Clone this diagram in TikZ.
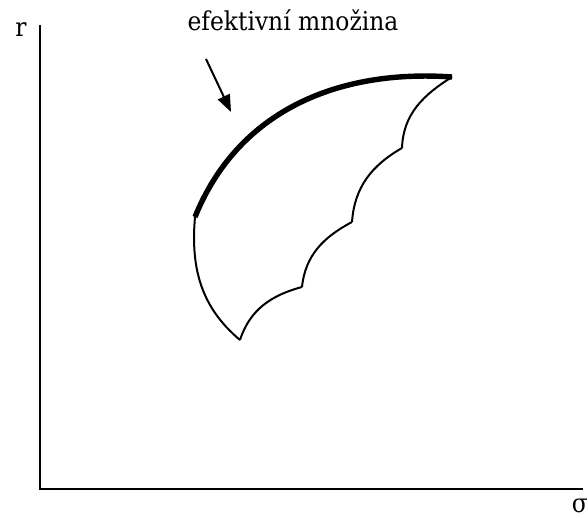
\documentclass[tikz,border=0pt]{standalone}
\usepackage{fontspec}
\setmainfont{DejaVu Serif Condensed}
\usetikzlibrary{arrows.meta}

\begin{document}
\begin{tikzpicture}[
  x=1pt, y=1pt,
  lbl/.style={font=\fontsize{26}{30}\selectfont, inner sep=0pt},
  ax/.style={line width=2pt},
  edge/.style={line width=2pt},
  eff/.style={line width=5.4pt},
  ar/.style={-{Triangle[length=17pt, width=13pt]}, line width=2pt}
]
\useasboundingbox (0,0) rectangle (588,518);

% axes
\coordinate (o) at (40,29);
\coordinate (ytop) at (40,493);
\coordinate (xend) at (583,29);
\draw[ax] (ytop) -- (o) -- (xend);
\node[lbl, anchor=base] (r) at (21,481) {r};
\node[lbl, anchor=base east] (sigma) at (588,5) {σ};

% corners of the set
\coordinate (a) at (195,301);
\coordinate (e) at (452,441);
\coordinate (b) at (240,178);
\coordinate (s1) at (302,231);
\coordinate (s2) at (352,296);
\coordinate (s3) at (402,370);

% boundary
\draw[edge] (a) to[out=-95, in=140] (b);
\draw[edge] (b) to[out=72, in=195] (s1);
\draw[edge] (s1) to[out=84, in=208] (s2);
\draw[edge] (s2) to[out=86, in=210] (s3);
\draw[edge] (s3) to[out=88, in=212] (e);
\draw[eff] (a) to[out=68, in=176] (e);

% label
\node[lbl, anchor=base] (efset) at (293,487) {efektivní množina};
\coordinate (tail) at (206,459);
\coordinate (head) at (231,406);
\draw[ar] (tail) -- (head);
\end{tikzpicture}
\end{document}
